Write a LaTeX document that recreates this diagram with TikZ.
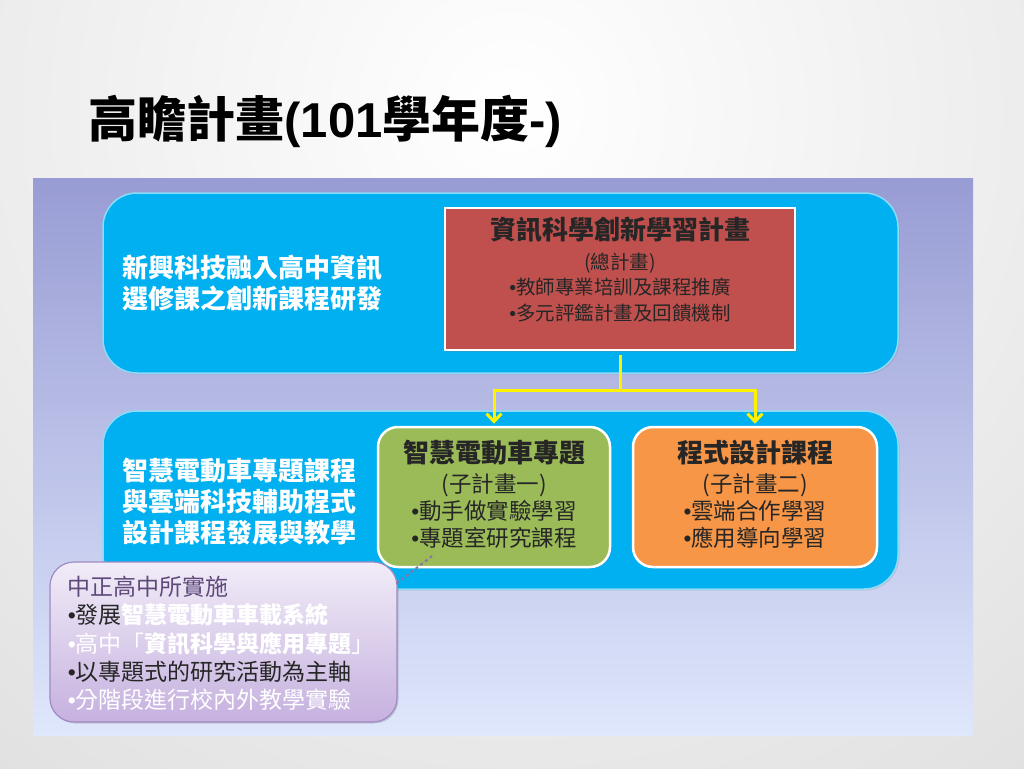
\documentclass[tikz,border=0pt]{standalone}
\usepackage{fontspec}
\setmainfont{Noto Sans CJK TC}
\newfontfamily\latinfont{Liberation Sans}
\usepackage{tikz}
\usetikzlibrary{positioning}
\usetikzlibrary{calc}
\usetikzlibrary{shadows}
\usetikzlibrary{arrows.meta}
\definecolor{bandblue}{HTML}{00B0F0}
\definecolor{planred}{HTML}{C0504D}
\definecolor{subgreen}{HTML}{9BBB59}
\definecolor{suborange}{HTML}{F79646}
\definecolor{paneltop}{HTML}{989CD4}
\definecolor{panelbot}{HTML}{DFE7FC}
\definecolor{calltop}{HTML}{F1ECF8}
\definecolor{callbot}{HTML}{C6B1DF}
\definecolor{callline}{HTML}{9F8AC3}
\definecolor{callhead}{HTML}{5F497A}
\newcommand{\fs}[2]{\fontsize{#1}{#2}\selectfont}
\newcommand{\bul}{{\latinfont •}}

\begin{document}
\begin{tikzpicture}[x=1pt,y=-1pt,
    band/.style={draw=white!55!bandblue, line width=1.5pt, fill=bandblue, rounded corners=34pt,
      minimum width=795, minimum height=180, drop shadow={opacity=0.2,shadow xshift=1.5pt,shadow yshift=-1.5pt}},
    plan box/.style={draw=white, line width=2.5pt, drop shadow={opacity=0.3,shadow xshift=1.5pt,shadow yshift=-1.5pt}},
    sub box/.style={plan box, rounded corners=20pt, minimum width=232, minimum height=140},
    band text/.style={text=white, font=\fs{26}{31}\bfseries, align=left, anchor=west},
    box text/.style={align=center, font=\fs{22.5}{27}, text=black!85},
    feed/.style={draw=yellow, line width=3pt},
    feed arrow/.style={feed, -{Straight Barb[length=8pt,width=15pt]}, shorten >=2pt}]
    \useasboundingbox (0,0) rectangle (1024,768);
    \fill[black!14] (0,0) rectangle (1024,768);
    \begin{scope}
      \clip (0,0) rectangle (1024,768);
      \shade[inner color=white, outer color=black!14] (512,110) circle (1000);
    \end{scope}
    \node[font=\fs{49}{54}\bfseries, anchor=west] (title) at (85,121)
      {高瞻計畫{\latinfont\bfseries(101}學年度{\latinfont\bfseries-)}};

    \shade[top color=paneltop, bottom color=panelbot] (33,178) rectangle (973,735);
    \node[band] (upband) at (500.5,283) {};
    \node[band, minimum height=178] (lowband) at (500.5,500) {};
    \node[band text] (uptext) at (119,283) {新興科技融入高中資訊\\選修課之創新課程研發};
    \node[band text] (lowtext) at (119,502) {智慧電動車專題課程\\與雲端科技輔助程式\\設計課程發展與教學};

    \node[plan box, fill=planred, minimum width=350, minimum height=142] (zong) at (620,279) {};
    \node[box text, font=\fs{19.5}{25.5}, below=7pt of zong.north] (zongtext)
      {{\fs{26}{31}\bfseries 資訊科學創新學習計畫}\\[4pt](總計畫)\\\bul 教師專業培訓及課程推廣\\\bul 多元評鑑計畫及回饋機制};

    \node[sub box, fill=subgreen] (sub1) at (494,497) {};
    \node[sub box, fill=suborange, minimum width=244] (sub2) at (755,497) {};
    \node[box text, below=11pt of sub1.north] (sub1text)
      {{\fs{26}{31}\bfseries 智慧電動車專題}\\[3pt](子計畫一)\\\bul 動手做實驗學習\\\bul 專題室研究課程};
    \node[box text, below=11pt of sub2.north] (sub2text)
      {{\fs{26}{31}\bfseries 程式設計課程}\\[3pt](子計畫二)\\\bul 雲端合作學習\\\bul 應用導向學習};

    \coordinate (fork) at (620,390);
    \draw[feed] ($(zong.south)+(0,4)$) -- (fork);
    \draw[feed arrow] (fork) -| (sub1.north);
    \draw[feed arrow] (fork) -| (sub2.north);

    \node[draw=callline, line width=1.2pt, rounded corners=24pt, top color=calltop, bottom color=callbot,
      minimum width=347, minimum height=160, drop shadow={opacity=0.3,shadow xshift=1.5pt,shadow yshift=-1.5pt}] (callout) at (223.5,642) {};
    \node[anchor=north west, align=left, font=\fs{23}{28.3}, text=black!85] (calltext) at ($(callout.north west)+(15,11)$)
      {{\color{callhead}中正高中所實施}\\
       \bul 發展{\color{white}\bfseries 智慧電動車車載系統}\\
       {\color{white}\bul 高中「{\bfseries 資訊科學與應用專題}」}\\
       \bul 以專題式的研究活動為主軸\\
       {\color{white}\bul 分階段進行校內外教學實驗}};
    \coordinate (pointer) at (432,556);
    \draw[callline!85!black, dashed, line width=2pt] ($(callout.north east)+(-1,22)$) -- (pointer);
\end{tikzpicture}
\end{document}
